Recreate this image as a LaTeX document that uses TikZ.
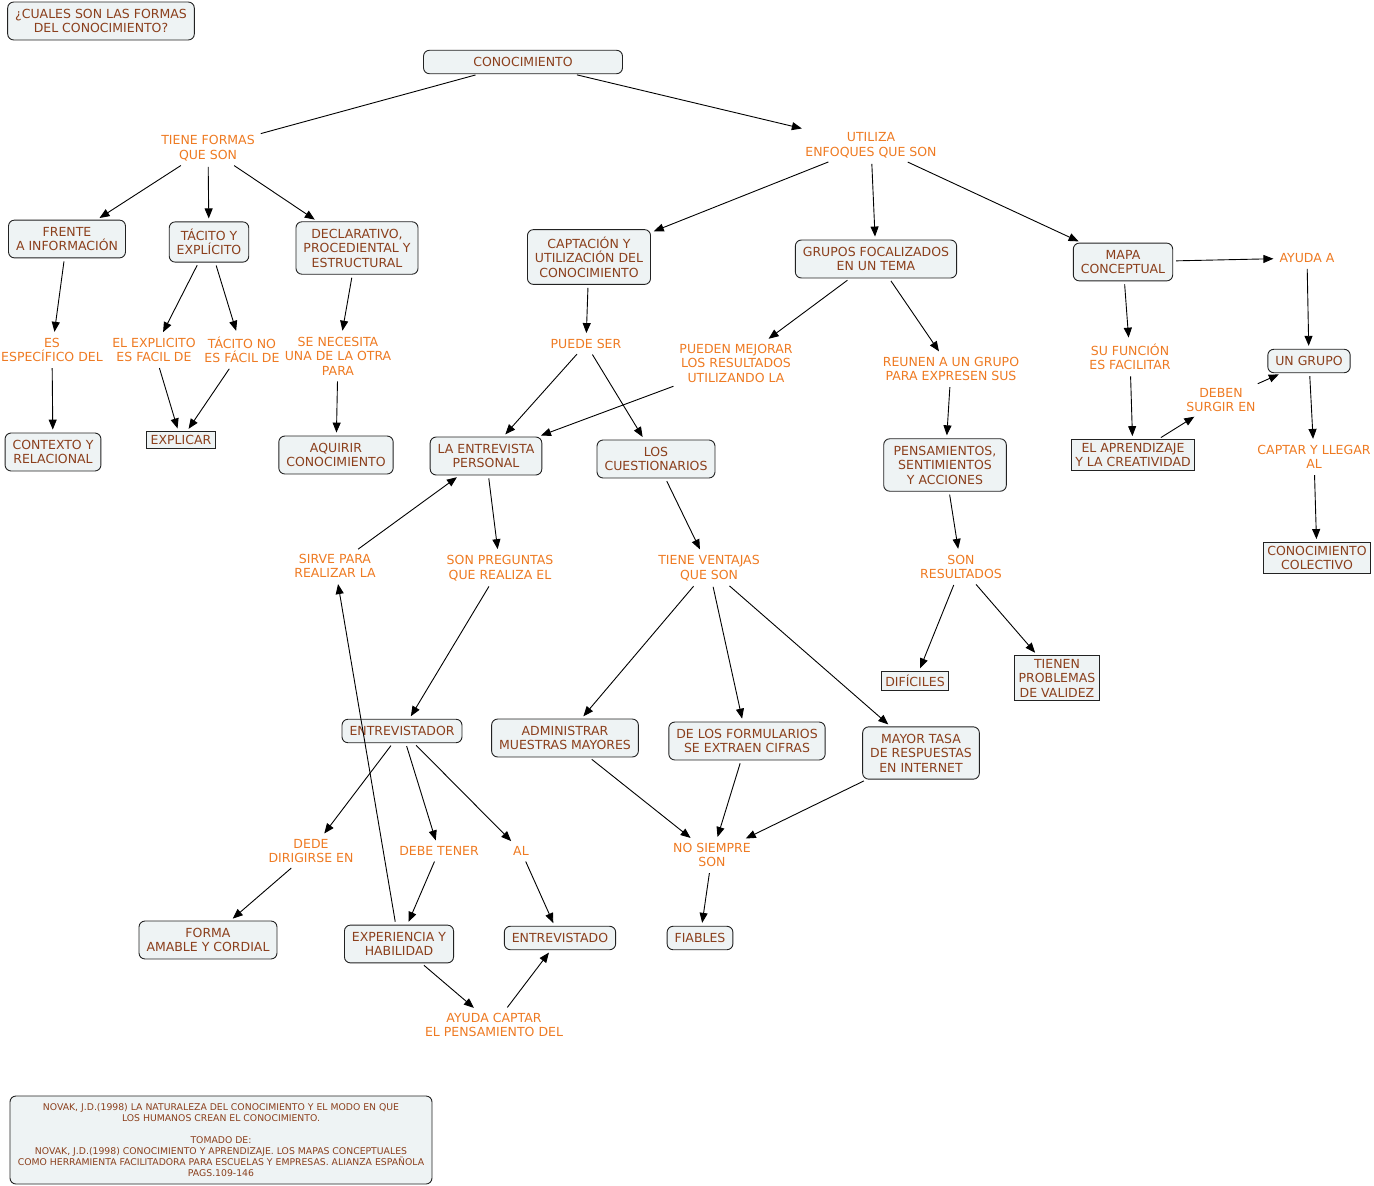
\documentclass[tikz,border=0pt]{standalone}
\usepackage{fontspec}
\setmainfont{DejaVu Sans}
\usepackage{tikz}
\usetikzlibrary{arrows.meta}
\definecolor{cfill}{HTML}{EEF3F4}
\definecolor{ctext}{HTML}{8B3F1C}
\definecolor{ltext}{HTML}{EE7A22}
\definecolor{cborder}{HTML}{222222}
\tikzset{
  concept/.style={draw=cborder, fill=cfill, rounded corners=6pt, text=ctext, align=center,
    inner xsep=7.5pt, inner ysep=7pt, line width=0.9pt, font=\fontsize{12.5}{14.5}\selectfont},
  conceptsq/.style={concept, rounded corners=0pt, inner xsep=4pt, inner ysep=3.5pt},
  phrase/.style={text=ltext, align=center, inner sep=3pt, font=\fontsize{12.5}{14.5}\selectfont},
  link/.style={-{Triangle[length=10pt,width=8pt]}, line width=0.9pt, draw=black, shorten >=3pt, shorten <=3pt},
  plainlink/.style={line width=0.9pt, draw=black, shorten >=3pt, shorten <=3pt}
}

\begin{document}
\begin{tikzpicture}[x=1pt, y=-1pt]
  \useasboundingbox (0,0) rectangle (1374,1186);

  % concepts
  \node[concept] (pregunta) at (101,21) {¿CUALES SON LAS FORMAS\\DEL CONOCIMIENTO?};
  \node[concept, minimum width=199pt] (conoc) at (523,62) {CONOCIMIENTO};
  \node[concept] (frente) at (67,239) {FRENTE\\A INFORMACIÓN};
  \node[concept] (tacito) at (209,242) {TÁCITO Y\\EXPLÍCITO};
  \node[concept] (declar) at (357,248) {DECLARATIVO,\\PROCEDIENTAL Y\\ESTRUCTURAL};
  \node[concept] (contexto) at (53,452) {CONTEXTO Y\\RELACIONAL};
  \node[conceptsq] (explicar) at (181,440) {EXPLICAR};
  \node[concept] (aquirir) at (336,455) {AQUIRIR\\CONOCIMIENTO};
  \node[concept] (captacion) at (589,257) {CAPTACIÓN Y\\UTILIZACIÓN DEL\\CONOCIMIENTO};
  \node[concept] (grupos) at (876,259) {GRUPOS FOCALIZADOS\\EN UN TEMA};
  \node[concept] (mapa) at (1123,262) {MAPA\\CONCEPTUAL};
  \node[concept] (ungrupo) at (1309,361) {UN GRUPO};
  \node[conceptsq] (aprendizaje) at (1133,455) {EL APRENDIZAJE\\Y LA CREATIVIDAD};
  \node[conceptsq] (colectivo) at (1317,558) {CONOCIMIENTO\\COLECTIVO};
  \node[concept] (entrevista) at (486,456) {LA ENTREVISTA\\PERSONAL};
  \node[concept] (cuestion) at (656,459) {LOS\\CUESTIONARIOS};
  \node[concept, inner xsep=10pt] (pensam) at (945,465) {PENSAMIENTOS,\\SENTIMIENTOS\\Y ACCIONES};
  \node[conceptsq] (dificiles) at (915,681) {DIFÍCILES};
  \node[conceptsq] (validez) at (1057,678) {TIENEN\\PROBLEMAS\\DE VALIDEZ};
  \node[concept] (entrevistador) at (402,731) {ENTREVISTADOR};
  \node[concept] (administrar) at (565,738) {ADMINISTRAR\\MUESTRAS MAYORES};
  \node[concept] (formularios) at (747,741) {DE LOS FORMULARIOS\\SE EXTRAEN CIFRAS};
  \node[concept] (tasa) at (921,753) {MAYOR TASA\\DE RESPUESTAS\\EN INTERNET};
  \node[concept] (forma) at (208,940) {FORMA\\AMABLE Y CORDIAL};
  \node[concept] (experiencia) at (399,944) {EXPERIENCIA Y\\HABILIDAD};
  \node[concept] (entrevistado) at (560,938) {ENTREVISTADO};
  \node[concept] (fiables) at (700,938) {FIABLES};
  \node[concept, minimum width=422pt, minimum height=88pt, font=\fontsize{9.3}{11}\selectfont] (novak) at (221,1140)
    {NOVAK, J.D.(1998) LA NATURALEZA DEL CONOCIMIENTO Y EL MODO EN QUE\\LOS HUMANOS CREAN EL CONOCIMIENTO.\\[11pt]
     TOMADO DE:\\NOVAK, J.D.(1998) CONOCIMIENTO Y APRENDIZAJE. LOS MAPAS CONCEPTUALES\\
     COMO HERRAMIENTA FACILITADORA PARA ESCUELAS Y EMPRESAS. ALIANZA ESPAÑOLA\\PAGS.109-146};

  % linking phrases
  \node[phrase] (tieneformas) at (208,148) {TIENE FORMAS\\QUE SON};
  \node[phrase] (utiliza) at (871,145) {UTILIZA\\ENFOQUES QUE SON};
  \node[phrase] (especifico) at (52,350) {ES\\ESPECÍFICO DEL};
  \node[phrase] (explicito) at (154,350) {EL EXPLICITO\\ES FACIL DE};
  \node[phrase] (tacitono) at (242,350) {TÁCITO NO\\ES FÁCIL DE};
  \node[phrase] (necesita) at (338,356) {SE NECESITA\\UNA DE LA OTRA\\PARA};
  \node[phrase] (puedeser) at (586,344) {PUEDE SER};
  \node[phrase] (mejorar) at (736,363) {PUEDEN MEJORAR\\LOS RESULTADOS\\UTILIZANDO LA};
  \node[phrase] (reunen) at (951,369) {REUNEN A UN GRUPO\\PARA EXPRESEN SUS};
  \node[phrase] (sufuncion) at (1130,357) {SU FUNCIÓN\\ES FACILITAR};
  \node[phrase] (ayudaa) at (1307,258) {AYUDA A};
  \node[phrase] (deben) at (1221,400) {DEBEN\\SURGIR EN};
  \node[phrase] (captar) at (1314,457) {CAPTAR Y LLEGAR\\AL};
  \node[phrase] (sonres) at (961,567) {SON\\RESULTADOS};
  \node[phrase] (sirve) at (335,566) {SIRVE PARA\\REALIZAR LA};
  \node[phrase] (preguntas) at (500,568) {SON PREGUNTAS\\QUE REALIZA EL};
  \node[phrase] (ventajas) at (709,568) {TIENE VENTAJAS\\QUE SON};
  \node[phrase] (dirigirse) at (311,851) {DEDE\\DIRIGIRSE EN};
  \node[phrase] (debetener) at (439,851) {DEBE TENER};
  \node[phrase] (al) at (521,851) {AL};
  \node[phrase] (nosiempre) at (712,855) {NO SIEMPRE\\SON};
  \node[phrase] (ayudacaptar) at (494,1025) {AYUDA CAPTAR\\EL PENSAMIENTO DEL};

  % connectors
  \draw[plainlink] (conoc) -- (tieneformas);
  \draw[link] (tieneformas) -- (frente);
  \draw[link] (tieneformas) -- (tacito);
  \draw[link] (tieneformas) -- (declar);
  \draw[link] (conoc) -- (utiliza);
  \draw[link] (utiliza) -- (captacion);
  \draw[link] (utiliza) -- (grupos);
  \draw[link] (utiliza) -- (mapa);
  \draw[link] (frente) -- (especifico);
  \draw[link] (especifico) -- (contexto);
  \draw[link] (tacito) -- (explicito);
  \draw[link] (tacito) -- (tacitono);
  \draw[link] (explicito) -- (explicar);
  \draw[link] (tacitono) -- (explicar);
  \draw[link] (declar) -- (necesita);
  \draw[link] (necesita) -- (aquirir);
  \draw[link] (captacion) -- (puedeser);
  \draw[link] (puedeser) -- (entrevista);
  \draw[link] (puedeser) -- (cuestion);
  \draw[link] (grupos) -- (mejorar);
  \draw[link] (mejorar) -- (entrevista);
  \draw[link] (grupos) -- (reunen);
  \draw[link] (reunen) -- (pensam);
  \draw[link] (mapa) -- (ayudaa);
  \draw[link] (mapa) -- (sufuncion);
  \draw[link] (sufuncion) -- (aprendizaje);
  \draw[link] (aprendizaje) -- (deben);
  \draw[link] (deben) -- (ungrupo);
  \draw[link] (ayudaa) -- (ungrupo);
  \draw[link] (ungrupo) -- (captar);
  \draw[link] (captar) -- (colectivo);
  \draw[link] (pensam) -- (sonres);
  \draw[link] (sonres) -- (dificiles);
  \draw[link] (sonres) -- (validez);
  \draw[link] (entrevista) -- (preguntas);
  \draw[link] (preguntas) -- (entrevistador);
  \draw[link] (experiencia) -- (sirve);
  \draw[link] (sirve) -- (entrevista);
  \draw[link] (entrevistador) -- (dirigirse);
  \draw[link] (entrevistador) -- (debetener);
  \draw[link] (entrevistador) -- (al);
  \draw[link] (dirigirse) -- (forma);
  \draw[link] (debetener) -- (experiencia);
  \draw[link] (al) -- (entrevistado);
  \draw[link] (experiencia) -- (ayudacaptar);
  \draw[link] (ayudacaptar) -- (entrevistado);
  \draw[link] (cuestion) -- (ventajas);
  \draw[link] (ventajas) -- (administrar);
  \draw[link] (ventajas) -- (formularios);
  \draw[link] (ventajas) -- (tasa);
  \draw[link] (administrar) -- (nosiempre);
  \draw[link] (formularios) -- (nosiempre);
  \draw[link] (tasa) -- (nosiempre);
  \draw[link] (nosiempre) -- (fiables);
\end{tikzpicture}
\end{document}
